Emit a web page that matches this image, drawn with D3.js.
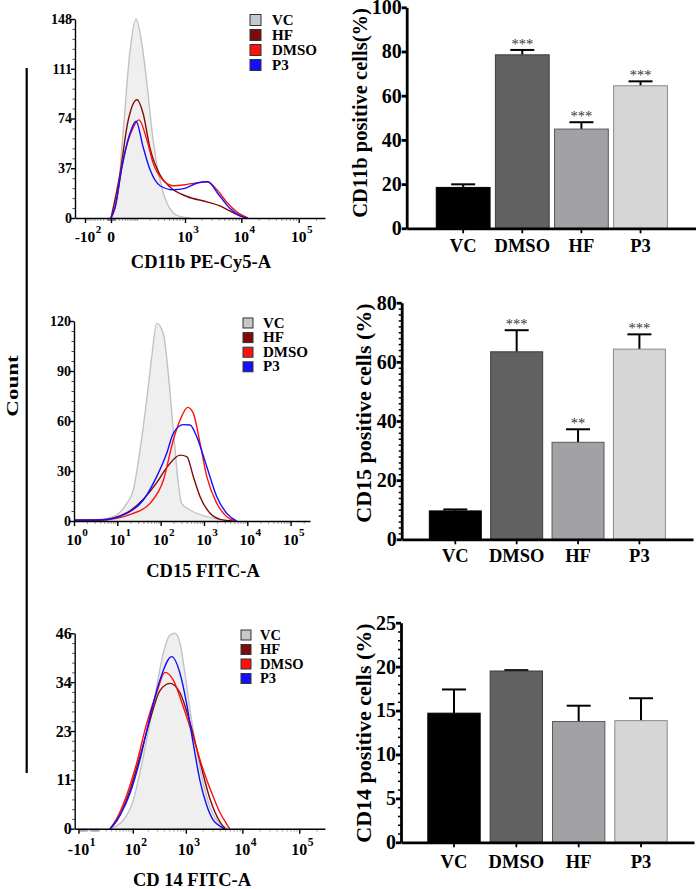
<!DOCTYPE html>
<html><head><meta charset="utf-8">
<script src="https://cdn.jsdelivr.net/npm/d3@7"></script>
<style>
body{margin:0;background:#fff;}
svg{display:block;}
text{font-family:"Liberation Serif","Times New Roman",serif;font-weight:bold;fill:#000;}
</style></head><body>
<svg id="fig" width="696" height="889"></svg>
<script>
// ---------------- DATA ----------------
const groupNames = ["VC", "HF", "DMSO", "P3"];

// CD11b PE-Cy5-A histograms: [fluorescence, count]
const cd11bVC   = [[0,0],[14.8,13],[33.7,63],[62,124],[94,148],[134,129],[175,100],[239,58],[334,28],[459,11],[598,4],[810,1],[1200,0]];
const cd11bHF   = [[0,0],[23.7,33],[53.2,72],[99.8,88],[142,78],[205,52],[334,32],[524,23],[1088,16],[2496,12],[4235,9],[7161,4],[10500,1],[12573,0]];
const cd11bDMSO = [[0,0],[9.5,8],[33.7,43],[77,67],[112,73],[175,58],[239,41],[383,28],[598,24],[1088,25],[1870,26.5],[2496,27],[3744,21],[5614,11.5],[8409,4.4],[13101,0]];
const cd11bP3   = [[0,0],[9.5,8],[30.2,38],[62,63],[94,72],[142,53],[205,36],[334,24],[598,21],[1000,22],[1652,26],[2594,27],[3902,18],[6344,7],[9483,1.5],[12573,0]];

// CD15 FITC-A histograms
const cd15VC   = [[1,0.5],[4,1],[8.1,2.6],[16.5,10.6],[23.4,18.6],[33.4,42.6],[47.6,72.6],[62.3,98.6],[81,118.6],[115,112.6],[150,88.6],[196,54.6],[256,22.6],[304,10.6],[477,6.6],[1161,2.6],[4800,0]];
const cd15HF   = [[1,0.5],[4,0.6],[16.7,5],[39.8,13],[81,23],[138,32],[281,39.5],[401,38.6],[569,26.6],[813,14.6],[1384,4.6],[2355,1],[4700,0]];
const cd15DMSO = [[1,0.5],[4,0.6],[23.4,4.6],[56.9,10.6],[116,24.6],[196,48.6],[281,60.6],[423,68.2],[569,64.6],[813,46.6],[1161,26.6],[1977,10.6],[3364,2.6],[5228,0]];
const cd15P3   = [[1,0.5],[4,0.6],[16.5,4.6],[39.8,12.6],[81,26.6],[138,40.6],[196,52.6],[334,57.8],[477,57.6],[681,50.6],[1161,32.6],[1977,14.6],[3364,4.6],[5716,0]];

// CD 14 FITC-A histograms
const cd14VC   = [[27.7,0],[61.6,2],[102,6.7],[163,17],[220,25],[294,33.4],[391,41.3],[518,45.6],[639,46],[786,43.7],[966,36.6],[1188,28],[1562,18.5],[2046,10.7],[2690,5.1],[3530,2],[4614,0.6],[5500,0]];
const cd14HF   = [[27.7,0],[34.5,0.8],[51.4,3.2],[86.9,9.1],[140,17],[220,25.6],[339,32.5],[518,34.2],[786,32],[1188,25],[1788,15.8],[2690,7],[4036,1.6],[5000,0]];
const cd14DMSO = [[27.7,0],[42.5,2.4],[73.5,7.9],[120,15.4],[190,24.8],[294,32],[420,36.8],[595,35],[900,28.7],[1360,21.5],[2046,13.8],[3072,7.5],[4036,3.8],[5298,1.1],[6000,0]];
const cd14P3   = [[27.7,0],[34.5,0.8],[51.4,3.2],[86.9,8.3],[140,16.2],[220,26.4],[339,35],[556,40.5],[786,36.6],[1036,29.4],[1360,20],[1788,11.3],[2350,5.5],[3072,2],[4036,0.6],[4800,0]];

// histogram axis ticks
const cd11bYTicks = [0, 37, 74, 111, 148];
const cd11bYLabels = ["0", "37", "74", "111", "148"];
const cd11bXTicks = [-100, 0, 1000, 10000, 100000];
const cd11bXLabels = [["-10","2"], ["0",""], ["10","3"], ["10","4"], ["10","5"]];

const cd15YTicks = [0, 30, 60, 90, 120];
const cd15YLabels = ["0", "30", "60", "90", "120"];
const cd15XTicks = [1, 10, 100, 1000, 10000, 100000];
const cd15XLabels = [["10","0"], ["10","1"], ["10","2"], ["10","3"], ["10","4"], ["10","5"]];

const cd14YTicks = [0, 11.5, 23, 34.5, 46];
const cd14YLabels = ["0", "11", "23", "34", "46"];
const cd14XTicks = [-10, 100, 1000, 10000, 100000];
const cd14XLabels = [["-10","1"], ["10","2"], ["10","3"], ["10","4"], ["10","5"]];

// bar charts
const barCategories = ["VC", "DMSO", "HF", "P3"];
const cd11bMeans  = [18.5, 78.5, 44.9, 64.5];
const cd11bErrors = [1.4, 2.2, 3.1, 2.0];
const cd11bStars  = ["", "***", "***", "***"];
const cd11bBarTicks = [0, 20, 40, 60, 80, 100];

const cd15Means  = [9.6, 63.4, 32.8, 64.3];
const cd15Errors = [0.5, 7.3, 4.4, 5.0];
const cd15Stars  = ["", "***", "**", "***"];
const cd15BarTicks = [0, 20, 40, 60, 80];

const cd14Means  = [14.7, 19.5, 13.75, 13.85];
const cd14Errors = [2.7, 0.1, 1.8, 2.55];
const cd14Stars  = ["", "", "", ""];
const cd14BarTicks = [0, 5, 10, 15, 20, 25];

// ---------------- STYLE ----------------
const lineColors = ["#c2c2c2", "#7e0a0a", "#ff1010", "#1010ff"];
const legendFill = ["#c8c8c8", "#7e0a0a", "#ff1010", "#1010ff"];
const barFill = ["#000000", "#616161", "#a2a2a6", "#d6d6d6"];
const barStroke = ["#000000", "#3c3c3c", "#5a5a5a", "#8a8a8a"];
const FONT = '"Liberation Serif","Times New Roman",serif';

const svg = d3.select("#fig");

function styleAxis(g, width) {
  g.select(".domain").attr("stroke", "#000").attr("stroke-width", width);
  g.selectAll(".tick line").attr("stroke", "#000").attr("stroke-width", width);
}

function minorValues(domain) {
  const out = [];
  for (let k = 0; k <= 5; k++) for (let m = 1; m <= 9; m++) {
    const v = m * Math.pow(10, k);
    if (v > domain[0] && v < domain[1]) out.push(v);
    if (-v > domain[0] && -v < domain[1]) out.push(-v);
  }
  return out;
}

function histPanel(cfg) {
  const g = svg.append("g");
  const x = cfg.x;
  const y = d3.scaleLinear().domain([0, cfg.yMax]).range([cfg.bottom, cfg.top]);
  const area = d3.area().x(d => x(d[0])).y0(y(0)).y1(d => y(d[1])).curve(d3.curveMonotoneX);
  const line = d3.line().x(d => x(d[0])).y(d => y(d[1])).curve(d3.curveMonotoneX);

  g.append("path").attr("d", area(cfg.series[0])).attr("fill", "#efefef");
  cfg.series.forEach((s, i) => {
    g.append("path").attr("d", line(s)).attr("fill", "none")
      .attr("stroke", lineColors[i]).attr("stroke-width", 1.4);
  });

  const xr = x.range();
  const dom = x.domain();
  const minors = minorValues(dom).filter(v => !cfg.xTicks.includes(v));
  const xMinor = g.append("g").attr("transform", `translate(0,${cfg.bottom})`)
    .call(d3.axisBottom(x).tickValues(minors).tickSize(3).tickSizeOuter(0).tickFormat(""));
  xMinor.select(".domain").remove();
  xMinor.selectAll(".tick line").attr("stroke", "#8a8aa0").attr("stroke-width", 0.8);

  const xAx = g.append("g").attr("transform", `translate(0,${cfg.bottom})`)
    .call(d3.axisBottom(x).tickValues(cfg.xTicks).tickSize(5).tickSizeOuter(0).tickFormat(""));
  styleAxis(xAx, 1.4);

  const ystep = cfg.yTicks[1] / 5;
  const yMinVals = d3.range(0, cfg.yMax + 0.001, ystep).filter(v => !cfg.yTicks.some(t => Math.abs(t - v) < 0.01));
  const yMinor = g.append("g").attr("transform", `translate(${xr[0]},0)`)
    .call(d3.axisLeft(y).tickValues(yMinVals).tickSize(2.5).tickSizeOuter(0).tickFormat(""));
  yMinor.select(".domain").remove();
  yMinor.selectAll(".tick line").attr("stroke", "#334").attr("stroke-width", 0.9);

  const yAx = g.append("g").attr("transform", `translate(${xr[0]},0)`)
    .call(d3.axisLeft(y).tickValues(cfg.yTicks).tickSize(4).tickSizeOuter(0)
      .tickFormat((d, i) => cfg.yLabels[i]));
  styleAxis(yAx, 1.4);
  yAx.selectAll("text").attr("x", -3).style("font-size", cfg.yFont + "px")
    .style("font-family", FONT).style("font-weight", "bold");

  cfg.xTicks.forEach((t, i) => {
    const [base, exp] = cfg.xLabels[i];
    const tx = x(t);
    const bt = g.append("text").attr("x", tx).attr("y", cfg.bottom + cfg.xLabOff)
      .attr("text-anchor", "middle").style("font-size", cfg.xFont + "px").text(base);
    if (exp) {
      const w = bt.node().getComputedTextLength();
      g.append("text").attr("x", tx + w / 2 + 0.5).attr("y", cfg.bottom + cfg.xLabOff - cfg.xFont * 0.55)
        .style("font-size", (cfg.xFont * 0.72) + "px").text(exp);
    }
  });

  g.append("text").attr("x", cfg.titleX).attr("y", cfg.titleY).attr("text-anchor", "middle")
    .style("font-size", "18.5px").text(cfg.title);

  groupNames.forEach((name, i) => {
    const ty = cfg.leg.y + i * cfg.leg.step;
    g.append("rect").attr("x", cfg.leg.x).attr("y", ty).attr("width", cfg.leg.size).attr("height", cfg.leg.size)
      .attr("fill", legendFill[i]).attr("stroke", "#333").attr("stroke-width", 1);
    g.append("text").attr("x", cfg.leg.tx).attr("y", ty + cfg.leg.size - 0.5)
      .style("font-size", cfg.leg.font + "px").text(name);
  });
}

// Panel 1: CD11b (biexponential-like axis)
{
  const x = d3.scaleSymlog().constant(54.5).domain([0, 1000]).range([111, 185]);
  x.domain([x.invert(75), x.invert(325)]).range([75, 325]);
  histPanel({
    x, yMax: 148, top: 19, bottom: 218,
    series: [cd11bVC, cd11bHF, cd11bDMSO, cd11bP3],
    xTicks: cd11bXTicks, xLabels: cd11bXLabels, yTicks: cd11bYTicks, yLabels: cd11bYLabels,
    yFont: 14, xFont: 15.5, xLabOff: 23.5,
    title: "CD11b PE-Cy5-A", titleX: 201, titleY: 267.5,
    leg: {x: 250, y: 14.5, step: 15, size: 11, tx: 272, font: 15}
  });
}
// Panel 2: CD15 (log axis)
{
  const x = d3.scaleLog().domain([1, 280000]).range([74, 310]);
  histPanel({
    x, yMax: 120, top: 321, bottom: 521,
    series: [cd15VC, cd15HF, cd15DMSO, cd15P3],
    xTicks: cd15XTicks, xLabels: cd15XLabels, yTicks: cd15YTicks, yLabels: cd15YLabels,
    yFont: 14, xFont: 15.5, xLabOff: 24,
    title: "CD15 FITC-A", titleX: 203, titleY: 577,
    leg: {x: 243, y: 318, step: 14.6, size: 10, tx: 263, font: 15}
  });
}
// Panel 3: CD14 (biexponential-like axis)
{
  const x = d3.scaleSymlog().constant(20).domain([0, 1000]).range([88.5, 185.8]);
  x.domain([x.invert(74.7), x.invert(325)]).range([74.7, 325]);
  histPanel({
    x, yMax: 46, top: 633.3, bottom: 828.7,
    series: [cd14VC, cd14HF, cd14DMSO, cd14P3],
    xTicks: cd14XTicks, xLabels: cd14XLabels, yTicks: cd14YTicks, yLabels: cd14YLabels,
    yFont: 16, xFont: 16, xLabOff: 26.5,
    title: "CD 14 FITC-A", titleX: 192, titleY: 885.5,
    leg: {x: 241, y: 630, step: 14.5, size: 10, tx: 260, font: 14.5}
  });
}

// "Count" label and vertical bar
svg.append("line").attr("x1", 26.7).attr("x2", 26.7).attr("y1", 68).attr("y2", 773)
  .attr("stroke", "#000").attr("stroke-width", 2.2);
svg.append("text").attr("transform", "translate(18,386) rotate(-90) scale(1,0.75)").attr("text-anchor", "middle")
  .style("font-size", "23px").text("Count");

// ---------------- BAR CHARTS ----------------
function barPanel(cfg) {
  const g = svg.append("g");
  const x = d3.scaleBand().domain(barCategories).range(cfg.xr).paddingInner(cfg.pi).paddingOuter(cfg.po);
  const y = d3.scaleLinear().domain([0, cfg.yMax]).range([cfg.bottom, cfg.top]);
  const bw = x.bandwidth();

  barCategories.forEach((c, i) => {
    const v = cfg.means[i], e = cfg.errors[i];
    const cx = x(c) + bw / 2;
    g.append("line").attr("x1", cx).attr("x2", cx).attr("y1", y(v)).attr("y2", y(v + e))
      .attr("stroke", "#000").attr("stroke-width", 2);
    g.append("line").attr("x1", cx - 12).attr("x2", cx + 12).attr("y1", y(v + e)).attr("y2", y(v + e))
      .attr("stroke", "#000").attr("stroke-width", 2);
    g.append("rect").attr("x", x(c)).attr("y", y(v)).attr("width", bw).attr("height", y(0) - y(v))
      .attr("fill", barFill[i]).attr("stroke", barStroke[i]).attr("stroke-width", 1);
    if (cfg.stars[i]) {
      g.append("text").attr("x", cx).attr("y", y(v + e) - 1).attr("text-anchor", "middle")
        .style("font-size", "14.5px").style("font-weight", "normal").style("fill", "#333")
        .text(cfg.stars[i]);
    }
  });

  if (cfg.minorStep) {
    const vals = d3.range(0, cfg.yMax + 0.001, cfg.minorStep).filter(v => !cfg.yTicks.includes(v));
    const ym = g.append("g").attr("transform", `translate(${cfg.xr[0]},0)`)
      .call(d3.axisLeft(y).tickValues(vals).tickSize(3).tickSizeOuter(0).tickFormat(""));
    ym.select(".domain").remove();
    ym.selectAll(".tick line").attr("stroke", "#000").attr("stroke-width", 1.5);
  }
  const yAx = g.append("g").attr("transform", `translate(${cfg.xr[0]},0)`)
    .call(d3.axisLeft(y).tickValues(cfg.yTicks).tickSize(5).tickPadding(0).tickSizeOuter(0).tickFormat(d3.format("d")));
  styleAxis(yAx, 2.8);
  yAx.selectAll("text").style("font-size", "20px")
    .style("font-family", FONT).style("font-weight", "bold");

  const xAx = g.append("g").attr("transform", `translate(0,${cfg.bottom})`)
    .call(d3.axisBottom(x).tickSize(5).tickSizeOuter(0).tickFormat(""));
  styleAxis(xAx, 2.8);
  xAx.selectAll(".tick line").attr("stroke-width", 1.8);
  barCategories.forEach(c => {
    g.append("text").attr("x", x(c) + bw / 2).attr("y", cfg.labelY).attr("text-anchor", "middle")
      .style("font-size", "18.5px").text(c);
  });

  g.append("text").attr("transform", `translate(${cfg.titleX},${cfg.titleY}) rotate(-90)`)
    .attr("text-anchor", "middle").style("font-size", cfg.titleFont + "px").text(cfg.title);
}

barPanel({
  xr: [406.7, 697], pi: 0.09, po: 0.5, yMax: 100, top: 7.3, bottom: 228.3,
  means: cd11bMeans, errors: cd11bErrors, stars: cd11bStars, yTicks: cd11bBarTicks, minorStep: 0,
  labelY: 252, title: "CD11b positive cells(%)", titleX: 367, titleY: 113, titleFont: 20.5
});
barPanel({
  xr: [401.7, 693], pi: 0.153, po: 0.45, yMax: 80, top: 302.7, bottom: 539.3,
  means: cd15Means, errors: cd15Errors, stars: cd15Stars, yTicks: cd15BarTicks, minorStep: 2,
  labelY: 562, title: "CD15 positive cells (%)", titleX: 371, titleY: 413, titleFont: 22
});
barPanel({
  xr: [401, 694], pi: 0.16, po: 0.43, yMax: 25, top: 622.7, bottom: 842.3,
  means: cd14Means, errors: cd14Errors, stars: cd14Stars, yTicks: cd14BarTicks, minorStep: 1,
  labelY: 868, title: "CD14 positive cells (%)", titleX: 371, titleY: 733, titleFont: 22
});
</script>
</body></html>
